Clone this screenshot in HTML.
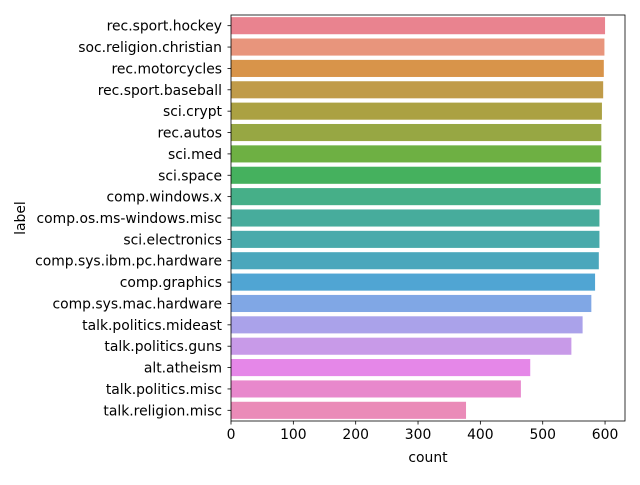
<!DOCTYPE html>
<html><head><meta charset="utf-8"><style>
body{margin:0;background:#fff;font-family:"Liberation Sans","DejaVu Sans",sans-serif;}
svg text{font-family:"DejaVu Sans","Liberation Sans",sans-serif;font-size:13.9px;fill:#000;}
</style></head><body>
<svg id="chart" width="640" height="480"></svg>
<script>
const categories=["rec.sport.hockey","soc.religion.christian","rec.motorcycles","rec.sport.baseball","sci.crypt","rec.autos","sci.med","sci.space","comp.windows.x","comp.os.ms-windows.misc","sci.electronics","comp.sys.ibm.pc.hardware","comp.graphics","comp.sys.mac.hardware","talk.politics.mideast","talk.politics.guns","alt.atheism","talk.politics.misc","talk.religion.misc"];
const counts=[600,599,598,597,595,594,594,593,593,591,591,590,584,578,564,546,480,465,377];
const xTicks=[0,100,200,300,400,500,600];
const colors=["#e9838f","#e8957c","#d8944a","#c09b49","#aba142","#97a743","#6eb043","#45b15e","#46af88","#47ac9c","#49aaab","#4ba7bc","#50a5d3","#80a7e5","#aaa2ea","#c89ae8","#e587e8","#e888cc","#ea8bb8"];
const NS="http://www.w3.org/2000/svg";
const svg=document.getElementById('chart');
const L=231,R=625,T=15,B=421,xMax=632;
const x=v=>L+(v/xMax)*(R-L);
const band=(B-T)/categories.length;
const y=i=>T+i*band;
function mk(t,a,p){const e=document.createElementNS(NS,t);for(const k in a)e.setAttribute(k,a[k]);(p||svg).appendChild(e);return e;}
categories.forEach((c,i)=>{
 const r=mk('rect',{x:x(0),y:y(i)+band*0.1,width:x(counts[i])-x(0),height:band*0.8,fill:colors[i%colors.length]});
 
 
 mk('line',{x1:L-3.5,x2:L,y1:y(i)+band/2,y2:y(i)+band/2,stroke:'#000','stroke-width':0.8});
 const t=mk('text',{x:L-9,y:y(i)+band/2+5,'text-anchor':'end'});t.textContent=c;
 
 
});
xTicks.forEach(v=>{
 mk('line',{x1:x(v),x2:x(v),y1:B,y2:B+3.5,stroke:'#000','stroke-width':0.8});
 const t=mk('text',{x:x(v),y:B+18,'text-anchor':'middle'});t.textContent=v;
 
 
});
const f=mk('rect',{x:L,y:T,width:R-L,height:B-T,fill:'none',stroke:'#000','stroke-width':0.8});


const xt=mk('text',{x:(L+R)/2,y:462,'text-anchor':'middle'});xt.textContent='count';


const yt=mk('text',{x:25,y:(T+B)/2,'text-anchor':'middle',transform:`rotate(-90 25 ${(T+B)/2})`});yt.textContent='label';


</script>
</body></html>
